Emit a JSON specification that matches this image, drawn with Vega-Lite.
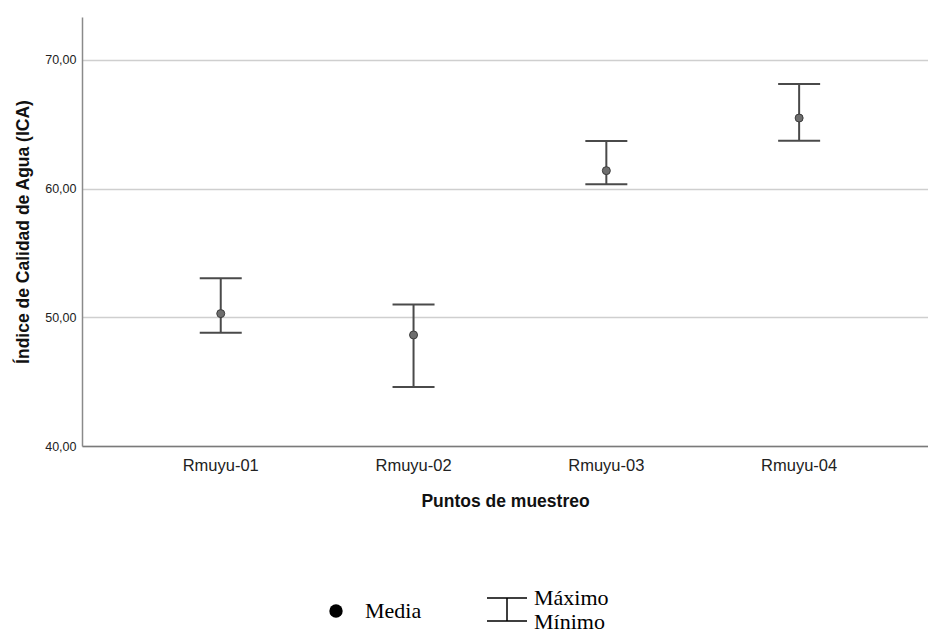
{
  "$schema": "https://vega.github.io/schema/vega-lite/v6.json",
  "width": 846,
  "height": 429,
  "autosize": {"type": "none"},
  "padding": {"left": 82, "top": 17, "right": 0, "bottom": 184},
  "background": "white",
  "config": {
    "view": {"stroke": null},
    "font": "Liberation Sans",
    "axisY": {
      "grid": true, "gridColor": "#cfcfcf", "gridWidth": 1.5, "ticks": false,
      "domainColor": "#8a8a8a", "domainWidth": 1.5,
      "labelFontSize": 12.5, "labelColor": "#222", "labelPadding": 6,
      "titleFontSize": 17.5, "titleFontWeight": "bold", "titleColor": "#111", "titlePadding": 12
    },
    "axisX": {
      "grid": false, "ticks": false, "domainColor": "#7a7a7a", "domainWidth": 1.5,
      "labelFontSize": 16.5, "labelColor": "#222", "labelPadding": 11, "labelAngle": 0,
      "titleFontSize": 17.5, "titleFontWeight": "bold", "titleColor": "#111", "titlePadding": 19
    },
    "legend": {
      "title": null, "padding": 0, "labelFont": "Liberation Serif", "labelFontSize": 22, "labelColor": "#000"
    }
  },
  "data": {
    "values": [
      {"punto": "Rmuyu-01", "media": 50.29, "minimo": 48.81, "maximo": 53.03},
      {"punto": "Rmuyu-02", "media": 48.63, "minimo": 44.59, "maximo": 51.0},
      {"punto": "Rmuyu-03", "media": 61.40, "minimo": 60.34, "maximo": 63.71},
      {"punto": "Rmuyu-04", "media": 65.49, "minimo": 63.73, "maximo": 68.14}
    ]
  },
  "encoding": {
    "x": {
      "field": "punto", "type": "nominal", "title": "Puntos de muestreo",
      "scale": {"type": "band", "paddingInner": 0, "paddingOuter": 0.194, "align": 0.566}
    }
  },
  "layer": [
    {
      "mark": {"type": "rule", "color": "#4a4a4a", "strokeWidth": 2},
      "encoding": {
        "y": {"field": "minimo", "type": "quantitative", "title": "Índice de Calidad de Agua (ICA)",
              "scale": {"domain": [40, 73.34], "nice": false, "zero": false},
              "axis": {"values": [40, 50, 60, 70], "labelExpr": "replace(format(datum.value, '.2f'), '.', ',')"}},
        "y2": {"field": "maximo"}
      }
    },
    {
      "mark": {"type": "tick", "color": "#4a4a4a", "size": 42, "thickness": 2, "opacity": 1},
      "encoding": {
        "y": {"field": "minimo", "type": "quantitative", "title": "Índice de Calidad de Agua (ICA)"}
      }
    },
    {
      "mark": {"type": "tick", "color": "#4a4a4a", "size": 42, "thickness": 2, "opacity": 1},
      "encoding": {
        "y": {"field": "maximo", "type": "quantitative", "title": "Índice de Calidad de Agua (ICA)"}
      }
    },
    {
      "mark": {"type": "point", "shape": "circle", "filled": true, "fill": "#6e6e6e", "stroke": "#3c3c3c", "strokeWidth": 1, "size": 64, "opacity": 1},
      "encoding": {
        "y": {"field": "media", "type": "quantitative", "title": "Índice de Calidad de Agua (ICA)"}
      }
    },
    {
      "mark": {"type": "point", "filled": true, "fill": "#000", "strokeWidth": 0, "size": 0, "opacity": 1},
      "encoding": {
        "y": {"field": "media", "type": "quantitative", "title": "Índice de Calidad de Agua (ICA)"},
        "shape": {
          "datum": "Media",
          "scale": {"domain": ["Media"], "range": ["circle"]},
          "legend": {
            "orient": "none", "legendX": 243, "legendY": 583, "direction": "horizontal",
            "symbolSize": 180, "labelOffset": 18, "symbolStrokeWidth": 0
          }
        }
      }
    },
    {
      "mark": {"type": "point", "filled": true, "fill": "#000", "strokeWidth": 0, "size": 0, "opacity": 1,
               "shape": "M-1,-0.0375H1V0.0375H-1Z M-0.0375,0.0375H0.0375V1.1125H-0.0375Z M-1,1.1125H1V1.1875H-1Z"},
      "encoding": {
        "y": {"field": "media", "type": "quantitative", "title": "Índice de Calidad de Agua (ICA)"},
        "strokeDash": {
          "datum": "Máximo Mínimo",
          "scale": {"domain": ["Máximo Mínimo"], "range": [[1, 0]]},
          "legend": {
            "orient": "none", "legendX": 405, "legendY": 561, "direction": "horizontal",
            "symbolSize": 1600, "labelOffset": 7, "symbolStrokeWidth": 0,
            "symbolType": "M-1,-0.0375H1V0.0375H-1Z M-0.0375,0.0375H0.0375V1.1125H-0.0375Z M-1,1.1125H1V1.1875H-1Z",
            "labelExpr": "['Máximo', 'Mínimo']"
          }
        }
      }
    }
  ]
}
